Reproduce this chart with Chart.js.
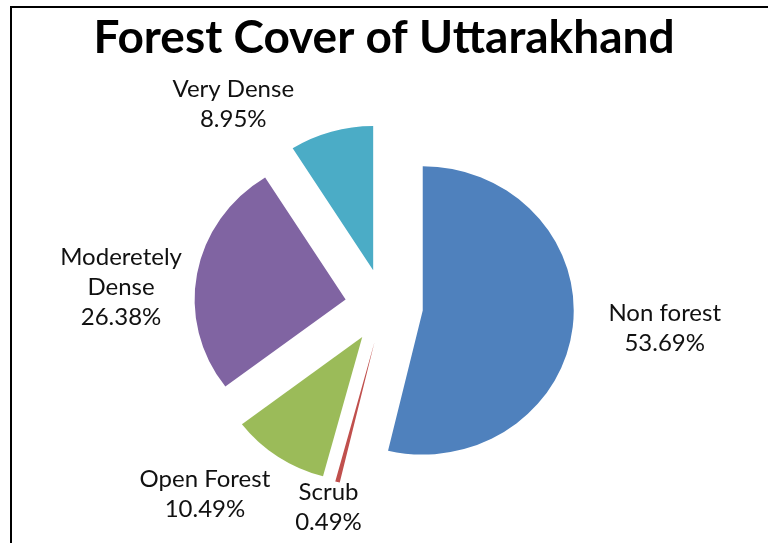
<!DOCTYPE html>
<html>
<head>
<meta charset="utf-8">
<script src="https://cdn.jsdelivr.net/npm/chart.js@4.4.1/dist/chart.umd.min.js"></script>
<style>
  html, body { margin: 0; padding: 0; background: #ffffff; }
  #wrap { position: relative; width: 768px; height: 543px; }
</style>
</head>
<body>
<div id="wrap"><canvas id="c" width="768" height="543"></canvas></div>
<script>
// ---- data ----
const titleText = "Forest Cover of Uttarakhand";
const categories = ["Non forest", "Scrub", "Open Forest", "Moderetely Dense", "Very Dense"];
const labelLines = [["Non forest"], ["Scrub"], ["Open Forest"], ["Moderetely", "Dense"], ["Very Dense"]];
const shares = [53.69, 0.49, 10.49, 26.38, 8.95];
const sliceColors = ["#4F81BD", "#C0504D", "#9BBB59", "#8064A2", "#4BACC6"];

// ---- styling / layout ----
const EXPLODE = 39;     // px each slice is pulled out along its bisector
const Y_SQUASH = 0.955; // the original picture is slightly squashed vertically
// label block offset from each slice's outer bisector point (unsquashed geometry)
const labelShift = [[92, 0], [-9, 17], [-73, 31], [-76, 15], [-98, -19]];

const framePlugin = {
  id: 'frame',
  beforeDraw(chart) {
    const ctx = chart.ctx;
    ctx.save();
    ctx.fillStyle = '#ffffff';
    ctx.fillRect(0, 0, chart.width, chart.height);
    ctx.fillStyle = '#000000';
    ctx.fillRect(10, 6, chart.width - 10, 2);
    ctx.fillRect(10, 6, 2, chart.height - 6);
    ctx.restore();
  }
};

// draw the library's arc elements, each translated outward by a uniform amount
const explodePlugin = {
  id: 'explode',
  beforeDatasetsDraw(chart) {
    const ctx = chart.ctx;
    const meta = chart.getDatasetMeta(0);
    meta.data.forEach(arc => {
      const p = arc.getProps(['x', 'y', 'startAngle', 'endAngle'], true);
      const mid = (p.startAngle + p.endAngle) / 2;
      ctx.save();
      ctx.translate(p.x, p.y);
      ctx.scale(1, Y_SQUASH);
      ctx.translate(-p.x, -p.y);
      ctx.translate(Math.cos(mid) * EXPLODE, Math.sin(mid) * EXPLODE);
      arc.draw(ctx, chart.chartArea);
      ctx.restore();
    });
    return false;
  }
};

const labelPlugin = {
  id: 'sliceLabels',
  afterDraw(chart) {
    const ctx = chart.ctx;
    const meta = chart.getDatasetMeta(0);
    ctx.save();
    ctx.font = '24px Lato';
    ctx.fillStyle = '#111111';
    ctx.textAlign = 'center';
    ctx.textBaseline = 'middle';
    const lh = 30;
    meta.data.forEach((arc, i) => {
      const p = arc.getProps(['x', 'y', 'startAngle', 'endAngle', 'outerRadius'], true);
      const mid = (p.startAngle + p.endAngle) / 2;
      const cx = p.x + Math.cos(mid) * EXPLODE;
      const cy = p.y + Math.sin(mid) * EXPLODE;
      const ox = cx + Math.cos(mid) * p.outerRadius;
      const oy = cy + Math.sin(mid) * p.outerRadius;
      const lines = labelLines[i].concat([shares[i].toFixed(2) + '%']);
      const bx = ox + labelShift[i][0];
      const by = oy + labelShift[i][1];
      const y0 = by - (lines.length - 1) * lh / 2;
      lines.forEach((t, k) => ctx.fillText(t, bx, y0 + k * lh));
    });
    ctx.restore();
  }
};

new Chart(document.getElementById('c'), {
  type: 'pie',
  data: {
    labels: categories,
    datasets: [{
      data: shares,
      backgroundColor: sliceColors,
      borderWidth: 0,
      offset: 0
    }]
  },
  options: {
    responsive: false,
    animation: false,
    radius: 151,
    layout: { padding: { top: 0, bottom: 15, left: 0, right: 0 } },
    plugins: {
      legend: { display: false },
      tooltip: { enabled: false },
      title: {
        display: true,
        text: titleText,
        color: '#000000',
        font: { family: 'Lato', size: 46, weight: 'bold' },
        padding: { top: 11, bottom: 18 }
      }
    }
  },
  plugins: [framePlugin, explodePlugin, labelPlugin]
});
</script>
</body>
</html>
